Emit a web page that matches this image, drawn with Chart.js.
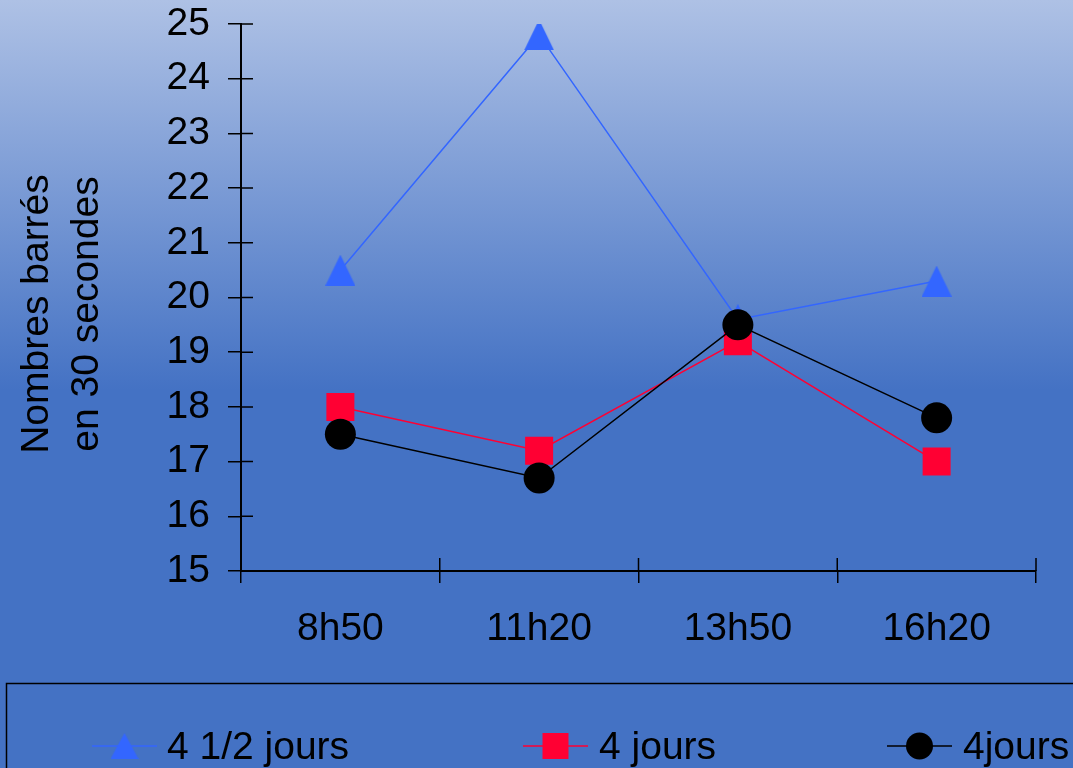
<!DOCTYPE html>
<html><head><meta charset="utf-8">
<script src="https://cdn.jsdelivr.net/npm/chart.js@4.4.1/dist/chart.umd.min.js"></script>
<style>
html,body{margin:0;padding:0;background:#4472C4;overflow:hidden;}
#wrap{width:1073px;height:768px;position:relative;}
</style>
</head><body><div id="wrap"><canvas id="c"></canvas></div>
<script>
// ---- data ----
const categories = ['8h50', '11h20', '13h50', '16h20'];
const seriesLabels = ['4 1/2 jours', '4 jours', '4jours'];
const serie4demi = [20.5, 24.8, 19.6, 20.3];
const serie4 = [18.0, 17.2, 19.2, 17.0];
const serie4bis = [17.5, 16.7, 19.5, 17.8];
const yMin = 15, yMax = 25, yStep = 1;
const yTitleLines = ['Nombres barrés', 'en 30 secondes'];

// ---- styles ----
const FONT = "'Liberation Sans', Arial, sans-serif";
const FS = 39;
const colors = ['#3366FF', '#FF0033', '#000000'];

function triangleImg(w, h, color) {
  const c = document.createElement('canvas');
  c.width = w; c.height = h;
  const x = c.getContext('2d');
  x.fillStyle = color;
  x.beginPath(); x.moveTo(w / 2, 0); x.lineTo(w, h); x.lineTo(0, h); x.closePath(); x.fill();
  return c;
}
const triPlot = triangleImg(30, 31, colors[0]);
const triLegend = triangleImg(28, 26, colors[0]);

const bgPlugin = {
  id: 'bg',
  beforeDraw(chart) {
    const ctx = chart.ctx;
    const g = ctx.createLinearGradient(0, 0, 0, 390);
    g.addColorStop(0, '#AEC1E5');
    g.addColorStop(1, '#4472C4');
    ctx.save();
    ctx.fillStyle = g;
    ctx.fillRect(0, 0, chart.width, chart.height);
    ctx.restore();
  }
};

const decoPlugin = {
  id: 'deco',
  afterDraw(chart) {
    const ctx = chart.ctx;
    const xs = chart.scales.x, ys = chart.scales.y;
    ctx.save();
    // inner halves of tick marks
    ctx.strokeStyle = '#000'; ctx.lineWidth = 1.5;
    ctx.beginPath();
    for (let v = yMin; v <= yMax; v += yStep) {
      const py = ys.getPixelForValue(v);
      ctx.moveTo(xs.left, py); ctx.lineTo(xs.left + 12, py);
    }
    const n = categories.length;
    const half = (xs.getPixelForValue(1) - xs.getPixelForValue(0)) / 2;
    for (let i = 0; i <= n; i++) {
      const px = i < n ? xs.getPixelForValue(i) - half : xs.getPixelForValue(n - 1) + half;
      ctx.moveTo(px, ys.bottom); ctx.lineTo(px, ys.bottom - 13);
    }
    ctx.stroke();

    // y title (two rotated lines)
    ctx.fillStyle = '#000';
    ctx.font = FS + 'px ' + FONT;
    ctx.textAlign = 'center'; ctx.textBaseline = 'alphabetic';
    ctx.translate(48, 314);
    ctx.rotate(-Math.PI / 2);
    yTitleLines.forEach((t, i) => ctx.fillText(t, 0, i * 50));
    ctx.restore();

    // legend box
    ctx.save();
    ctx.strokeStyle = '#000'; ctx.lineWidth = 1.5;
    ctx.strokeRect(6.5, 683.5, 1200, 200);
    const items = [
      {x0: 92, x1: 157, tx: 167},
      {x0: 523, x1: 588, tx: 599},
      {x0: 887, x1: 952, tx: 963}
    ];
    const cy = 746;
    ctx.font = FS + 'px ' + FONT;
    ctx.textAlign = 'left'; ctx.textBaseline = 'alphabetic';
    chart.data.datasets.forEach((ds, i) => {
      const it = items[i];
      const cx = (it.x0 + it.x1) / 2;
      ctx.strokeStyle = ds.borderColor; ctx.lineWidth = 1.5;
      ctx.beginPath(); ctx.moveTo(it.x0, cy); ctx.lineTo(it.x1, cy); ctx.stroke();
      ctx.fillStyle = ds.pointBackgroundColor;
      if (i === 0) ctx.drawImage(triLegend, cx - 14, cy - 13);
      else if (i === 1) ctx.fillRect(cx - 13, cy - 13, 26, 26);
      else { ctx.beginPath(); ctx.ellipse(cx, cy, 13.5, 13.5, 0, 0, Math.PI * 2); ctx.fill(); }
      ctx.fillStyle = '#000';
      ctx.fillText(ds.label, it.tx, 759);
    });
    ctx.restore();
  }
};

new Chart(document.getElementById('c'), {
  type: 'line',
  data: {
    labels: categories,
    datasets: [
      {label: seriesLabels[0], data: serie4demi, borderColor: colors[0], pointBackgroundColor: colors[0],
       pointStyle: triPlot, borderWidth: 1.5, order: 2},
      {label: seriesLabels[1], data: serie4, borderColor: colors[1], pointBackgroundColor: colors[1],
       pointStyle: 'rect', pointRadius: 19.8, pointBorderWidth: 0, borderWidth: 1.5, order: 1},
      {label: seriesLabels[2], data: serie4bis, borderColor: colors[2], pointBackgroundColor: colors[2],
       pointStyle: 'circle', pointRadius: 15.5, pointBorderWidth: 0, borderWidth: 1.5, order: 0}
    ]
  },
  options: {
    responsive: true,
    maintainAspectRatio: false,
    animation: false,
    devicePixelRatio: 1,
    layout: {padding: {top: 24, right: 37, bottom: 97, left: 0}},
    elements: {line: {tension: 0}, point: {hoverRadius: 0}},
    plugins: {legend: {display: false}, tooltip: {enabled: false}, title: {display: false}},
    scales: {
      x: {
        type: 'category',
        offset: true,
        grid: {display: true, drawOnChartArea: false, drawTicks: true, tickLength: 12, color: '#000', lineWidth: 1.5, offset: true},
        border: {display: true, color: '#000', width: 2},
        ticks: {color: '#000', font: {family: FONT, size: FS}, padding: 23, maxRotation: 0, autoSkip: false},
        afterFit(s) { s.height = 100; s.paddingLeft = 0; s.paddingRight = 0; }
      },
      y: {
        min: yMin, max: yMax,
        grid: {display: true, drawOnChartArea: false, drawTicks: true, tickLength: 13, color: '#000', lineWidth: 1.5},
        border: {display: true, color: '#000', width: 2},
        ticks: {stepSize: yStep, color: '#000', font: {family: FONT, size: FS}, padding: 18},
        afterFit(s) { s.width = 241; s.paddingTop = 0; s.paddingBottom = 0; }
      }
    }
  },
  plugins: [bgPlugin, decoPlugin]
});
</script>
</body></html>
